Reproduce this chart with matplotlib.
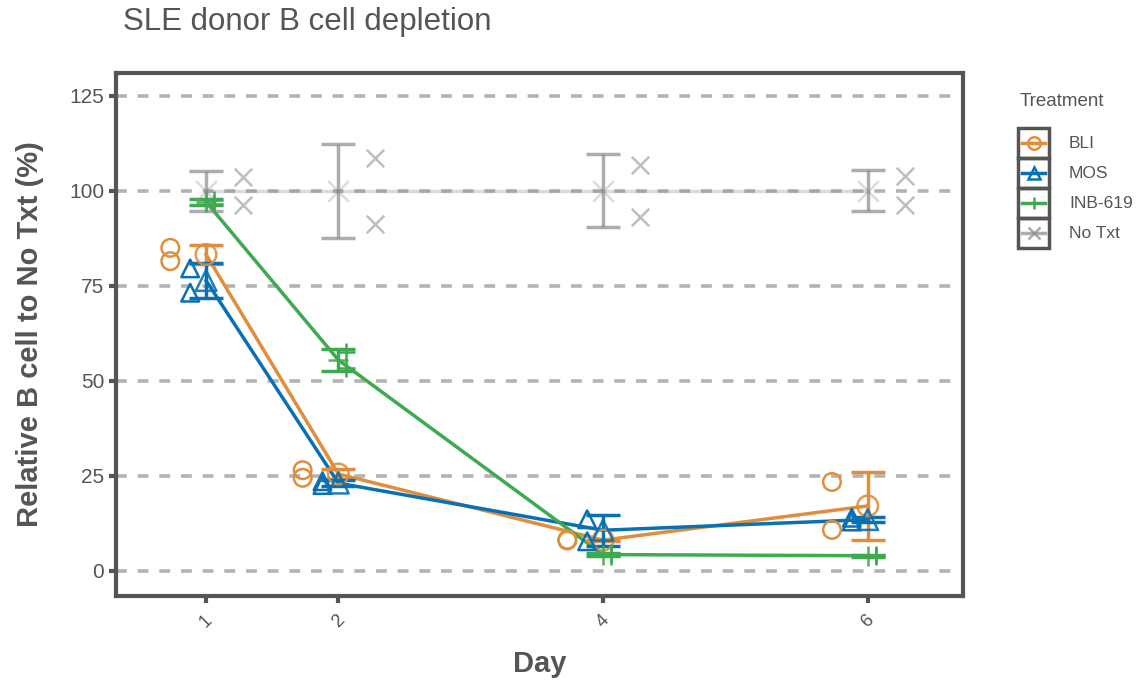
import numpy as np
import matplotlib
matplotlib.use("Agg")
import matplotlib.pyplot as plt
from matplotlib.lines import Line2D
from matplotlib.patches import Rectangle

plt.rcParams['font.family'] = ['Liberation Sans', 'DejaVu Sans']

days = [1, 2, 4, 6]
treatments = ['BLI', 'MOS', 'INB-619', 'No Txt']

# two replicate values per day (relative B cells, %)
bli_rep = [[85.0, 81.5], [26.5, 24.5], [8.2, 8.0], [23.4, 10.8]]
mos_rep = [[73.2, 79.6], [23.6, 22.6], [13.6, 7.8], [14.0, 13.0]]
inb_rep = [[96.6, 97.6], [57.5, 53.5], [4.6, 4.0], [4.2, 3.8]]
notxt_rep = [[103.7, 96.3], [108.7, 91.3], [106.8, 93.2], [103.8, 96.2]]

colors = {'BLI': '#E08E3C', 'MOS': '#0A70B4', 'INB-619': '#3DAA50', 'No Txt': '#8A8A8A'}
markers = {'BLI': 'o', 'MOS': '^', 'INB-619': '+', 'No Txt': 'x'}
dodge = {'BLI': -0.27, 'MOS': -0.12, 'INB-619': 0.06, 'No Txt': 0.28}
line_alpha = {'BLI': 1.0, 'MOS': 1.0, 'INB-619': 1.0, 'No Txt': 0.3}
bar_alpha = {'BLI': 1.0, 'MOS': 1.0, 'INB-619': 1.0, 'No Txt': 0.7}
pt_alpha = {'BLI': 1.0, 'MOS': 1.0, 'INB-619': 1.0, 'No Txt': 0.55}
data = {'BLI': bli_rep, 'MOS': mos_rep, 'INB-619': inb_rep, 'No Txt': notxt_rep}

fig = plt.figure(figsize=(11.4, 6.81), dpi=100)
ax = fig.add_axes([0.1018, 0.1248, 0.7429, 0.768])

for yv in np.arange(0, 126, 25):
    ax.axhline(yv, color='#b3b3b3', lw=2.6, ls=(0, (3, 3)), zorder=0)

for t in ['No Txt', 'BLI', 'MOS', 'INB-619']:
    rep = np.array(data[t])
    mean = rep.mean(axis=1)
    sd = rep.std(axis=1, ddof=1)
    c = colors[t]
    hollow = markers[t] in 'o^'
    ax.plot(days, mean, color=c, lw=2.5, alpha=line_alpha[t], zorder=2)
    ax.errorbar(days, mean, yerr=sd, fmt='none', ecolor=c, elinewidth=2.5,
                capsize=12, capthick=2.5, alpha=bar_alpha[t], zorder=3)
    ax.scatter(days, mean, marker=markers[t], s=220,
               facecolors='none' if hollow else c,
               edgecolors=c if hollow else None,
               linewidths=1.8, alpha=0.3 if t == 'No Txt' else 0.9, zorder=4)
    for i, d in enumerate(days):
        xs = [d + dodge[t]] * rep.shape[1]
        ax.scatter(xs, rep[i], marker=markers[t], s=160,
                   facecolors='none' if hollow else c,
                   edgecolors=c if hollow else None,
                   linewidths=1.8, alpha=pt_alpha[t], zorder=4)

ax.set_xlim(0.32, 6.72)
ax.set_ylim(-6.6, 131)
ax.set_xticks(days)
ax.set_xticklabels([str(d) for d in days], rotation=45, ha='center', va='top')
ax.set_yticks(np.arange(0, 126, 25))
ax.tick_params(axis='both', colors='#555555', length=5, width=3, labelsize=15,
               labelcolor='#555555')
ax.tick_params(axis='x', pad=6, labelsize=13)
for s in ax.spines.values():
    s.set_linewidth(3)
    s.set_color('#555555')

ax.set_xlabel('Day', fontsize=21, fontweight='bold', color='#555555', labelpad=14)
ax.set_ylabel('Relative B cell to No Txt (%)', fontsize=21, fontweight='bold',
              color='#555555', labelpad=18)
fig.text(123 / 1140, 1 - 22 / 681, 'SLE donor B cell depletion', fontsize=22.5,
         color='#555555', va='center', ha='left')

# legend drawn with boxed keys
W, H = 1140, 681
fig.text(1020 / W, 1 - 102 / H, 'Treatment', fontsize=13.5, color='#555555',
         va='center', ha='left')
row_h = 30
top = 128
for i, t in enumerate(treatments):
    y0 = top + i * row_h
    fig.patches.append(Rectangle((1018 / W, 1 - (y0 + row_h) / H), 31 / W, row_h / H,
                                 transform=fig.transFigure, fill=False,
                                 edgecolor='#555555', lw=2.5))
    yc = 1 - (y0 + row_h / 2) / H
    c = colors[t]
    fig.lines.append(Line2D([1022 / W, 1045 / W], [yc, yc], transform=fig.transFigure,
                            color=c, lw=2.5, alpha=bar_alpha[t]))
    fig.lines.append(Line2D([1033.5 / W], [yc], transform=fig.transFigure,
                            marker=markers[t], markersize=9, color=c,
                            markerfacecolor='none' if markers[t] in 'o^' else c,
                            markeredgewidth=1.8, alpha=bar_alpha[t]))
    fig.text(1069 / W, yc, t, fontsize=12.5, color='#555555', va='center', ha='left')

fig.savefig('out.png', dpi=100)
